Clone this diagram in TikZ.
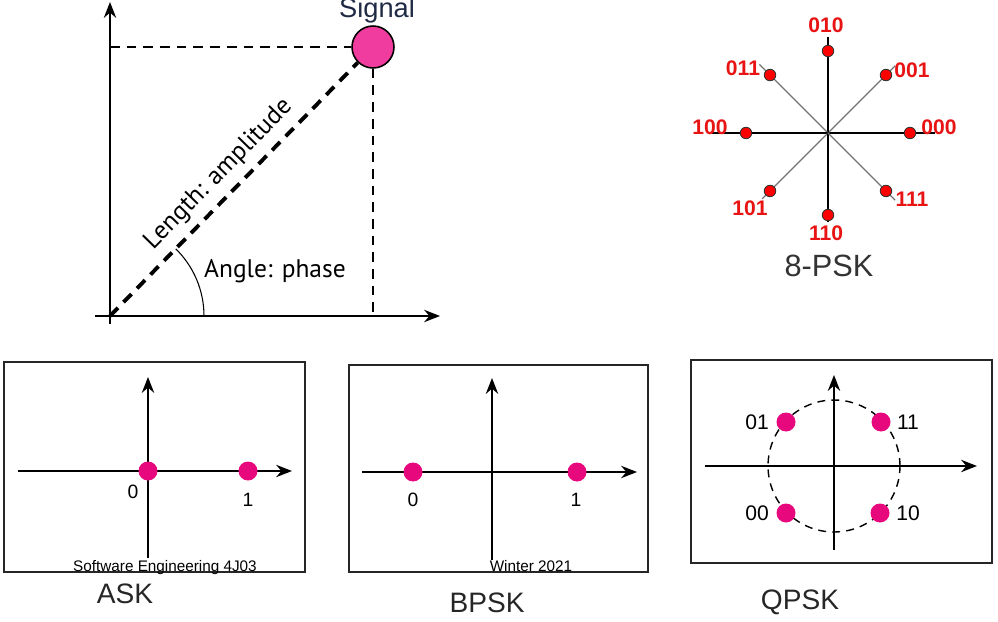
\documentclass[tikz,border=0pt]{standalone}
\usepackage{fontspec}
\setmainfont{Liberation Sans}
\newfontfamily\humanist{PT Sans}
\usetikzlibrary{arrows.meta,positioning,calc}

\definecolor{signalpink}{HTML}{F03C9E}
\definecolor{dotpink}{HTML}{E8087E}
\definecolor{pskred}{HTML}{E81414}
\definecolor{navytext}{HTML}{1F2A44}
\definecolor{captiongray}{HTML}{262626}

\tikzset{
  axis/.style={line width=1.2pt,-{Stealth[length=9pt,width=7pt]}},
  guide/.style={line width=0.9pt,dash pattern=on 5.5pt off 4pt},
  ampline/.style={line width=2.2pt,dash pattern=on 6.5pt off 4.5pt},
  sigdot/.style={circle,draw,line width=0.9pt,fill=signalpink,minimum size=0.84cm,inner sep=0pt},
  cdot/.style={circle,fill=dotpink,minimum size=0.38cm,inner sep=0pt},
  pskdot/.style={circle,draw=black!80,line width=0.5pt,fill=red,minimum size=0.23cm,inner sep=0pt},
  psklbl/.style={text=pskred,font=\fontsize{12}{14}\selectfont\bfseries,inner sep=0pt},
  lbl/.style={font=\fontsize{11}{13}\selectfont,inner sep=0pt},
  panel/.style={draw=black!85,line width=0.9pt},
  caption/.style={text=captiongray,font=\fontsize{16}{19}\selectfont},
  footer/.style={font=\fontsize{8.7}{10}\selectfont,inner sep=0pt,anchor=base}
}

\begin{document}
\begin{tikzpicture}[x=0.02cm,y=-0.02cm]
  \useasboundingbox (0,0) rectangle (998,622);

  % amplitude / phase plane
  \coordinate (o) at (110,316);
  \coordinate (ytop) at (110,2);
  \coordinate (ybot) at (110,324);
  \coordinate (xleft) at (95,316);
  \coordinate (xright) at (440,316);
  \node[sigdot] (sig) at (373,47) {};
  \draw[guide] (ytop |- sig) -- (sig.west);
  \draw[guide] (sig.south) -- (sig |- o);
  \draw[axis] (ybot) -- (ytop);
  \draw[axis] (xleft) -- (xright);
  \draw[ampline] (o) -- node[sloped,above=1pt,pos=0.5,font=\humanist\fontsize{14.5}{16}\selectfont] {Length: amplitude} (sig);
  \draw[line width=0.6pt] ($(o)+(94,0)$) arc[start angle=0,end angle=45.6,radius=1.88cm];
  \node[font=\humanist\fontsize{14.5}{16}\selectfont] (ang) at (275,271) {Angle: phase};
  \node[text=navytext,font=\fontsize{15.5}{17}\selectfont,anchor=base] (sigl) at (377,17) {Signal};

  % 8-PSK constellation
  \coordinate (c) at (828,133);
  \foreach \a/\r/\lab in {0/107/000, 45/95/001, 90/96/010, 135/97/011,
      180/116/100, 225/93/101, 270/89/110, 315/95/111}{
    \coordinate (e\lab) at ($(c)+({\r*cos(\a)},{-\r*sin(\a)})$);
    \pgfmathsetmacro\tone{mod(\a,90)==0 ? "black" : "black!55"}
    \draw[draw=\tone,line width=0.7pt] (c) -- (e\lab);
  }
  \foreach \a/\lab/\lx/\ly in {0/000/939/127, 45/001/912/70, 90/010/826/25, 135/011/743/68,
      180/100/710/127, 225/101/750/208, 270/110/826/233, 315/111/912/199}{
    \node[pskdot] (p\lab) at ($(c)+({82*cos(\a)},{-82*sin(\a)})$) {};
    \node[psklbl] (l\lab) at (\lx,\ly) {\lab};
  }
  \node[text=black!80,font=\fontsize{17.5}{20}\selectfont] (psk) at (829,266) {8-PSK};

  % ASK
  \draw[panel] (4,362) rectangle (305,572);
  \coordinate (askl) at (18,471);
  \coordinate (askr) at (292,471);
  \coordinate (askt) at (148,377);
  \coordinate (askb) at (148,558);
  \draw[axis] (askl) -- (askr);
  \draw[axis] (askb) -- (askt);
  \node[cdot] (a0) at (148,471) {};
  \node[cdot] (a1) at (248,471) {};
  \node[lbl] (a0l) at (133,492) {0};
  \node[lbl] (a1l) at (248,500) {1};
  \node[footer] (foot1) at (165,571) {Software Engineering 4J03};
  \node[caption] (ask) at (125,594) {ASK};

  % BPSK
  \draw[panel] (349,365) rectangle (648,572);
  \coordinate (bpl) at (362,472);
  \coordinate (bpr) at (637,472);
  \coordinate (bpt) at (492,378);
  \coordinate (bpb) at (492,560);
  \draw[axis] (bpl) -- (bpr);
  \draw[axis] (bpb) -- (bpt);
  \node[cdot] (b0) at (413,472) {};
  \node[cdot] (b1) at (577,472) {};
  \node[lbl] (b0l) at (413,500) {0};
  \node[lbl] (b1l) at (576,500) {1};
  \node[footer] (foot2) at (531,571) {Winter 2021};
  \node[caption] (bpsk) at (487,603) {BPSK};

  % QPSK
  \draw[panel] (691,360) rectangle (992,563);
  \coordinate (qo) at (834,466);
  \coordinate (ql) at (705,466);
  \coordinate (qr) at (977,466);
  \coordinate (qt) at (834,375);
  \coordinate (qb) at (834,550);
  \draw[line width=0.8pt,dash pattern=on 4.5pt off 3.5pt] (qo) circle[radius=1.32cm];
  \draw[axis] (ql) -- (qr);
  \draw[axis] (qb) -- (qt);
  \node[cdot] (q01) at (786,422) {};
  \node[cdot] (q11) at (881,422) {};
  \node[cdot] (q00) at (786,513) {};
  \node[cdot] (q10) at (880,513) {};
  \node[lbl,font=\fontsize{12}{14}\selectfont] (q01l) at (757,422) {01};
  \node[lbl,font=\fontsize{12}{14}\selectfont] (q11l) at (908,422) {11};
  \node[lbl,font=\fontsize{12}{14}\selectfont] (q00l) at (757,513) {00};
  \node[lbl,font=\fontsize{12}{14}\selectfont] (q10l) at (908,513) {10};
  \node[caption] (qpsk) at (800,602) {QPSK};
\end{tikzpicture}
\end{document}
